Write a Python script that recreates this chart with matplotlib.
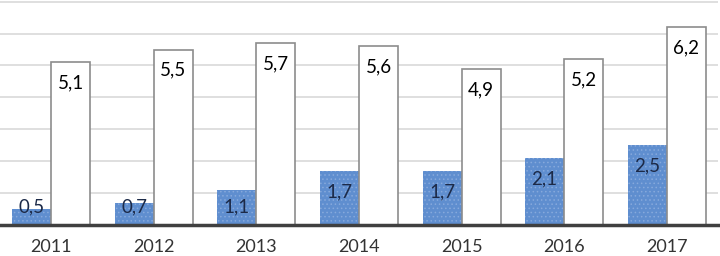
import matplotlib
matplotlib.use("Agg")
import matplotlib.pyplot as plt
import numpy as np

years = ["2011", "2012", "2013", "2014", "2015", "2016", "2017"]
blue_vals = [0.5, 0.7, 1.1, 1.7, 1.7, 2.1, 2.5]
white_vals = [5.1, 5.5, 5.7, 5.6, 4.9, 5.2, 6.2]

plt.rcParams['font.family'] = ['Lato', 'DejaVu Sans']
plt.rcParams['hatch.linewidth'] = 0.6

def fmt(v):
    return f"{v:.1f}".replace(".", ",")

fig = plt.figure(figsize=(7.2, 2.56), dpi=100)
ax = fig.add_axes([0.0, 31 / 256, 718 / 720, 224 / 256])

x = np.arange(len(years))
w = 0.38
ax.bar(x - w / 2, blue_vals, w, color="#5f8ecf", edgecolor="#86a9dc",
       hatch="....", linewidth=0, zorder=3)
ax.bar(x + w / 2, white_vals, w, color="white", edgecolor="#8c8c8c",
       linewidth=1.2, zorder=3)

for xi, v in zip(x, blue_vals):
    y = max(v - 0.65, 0.56)
    ax.text(xi - w / 2, y, fmt(v), ha="center", va="center",
            fontsize=13.5, color="#1c2a48", zorder=4)
for xi, v in zip(x, white_vals):
    ax.text(xi + w / 2, v - 0.65, fmt(v), ha="center", va="center",
            fontsize=13.5, color="black", zorder=4)

ax.set_xlim(-0.5, len(years) - 0.5)
ax.set_ylim(0, 7.02)
ax.set_yticks(np.arange(1, 8))
ax.yaxis.grid(True, color="#d9d9d9", linewidth=1.2, zorder=0)
ax.tick_params(axis="y", left=False, labelleft=False)
ax.set_xticks(x)
ax.set_xticklabels(years, fontsize=13, color="#333333")
ax.tick_params(axis="x", length=0, pad=10)
for s in ["top", "right", "left"]:
    ax.spines[s].set_visible(False)
ax.spines["bottom"].set_color("#404040")
ax.spines["bottom"].set_linewidth(2.5)
ax.spines["bottom"].set_zorder(5)

fig.savefig("out.png", dpi=100)
